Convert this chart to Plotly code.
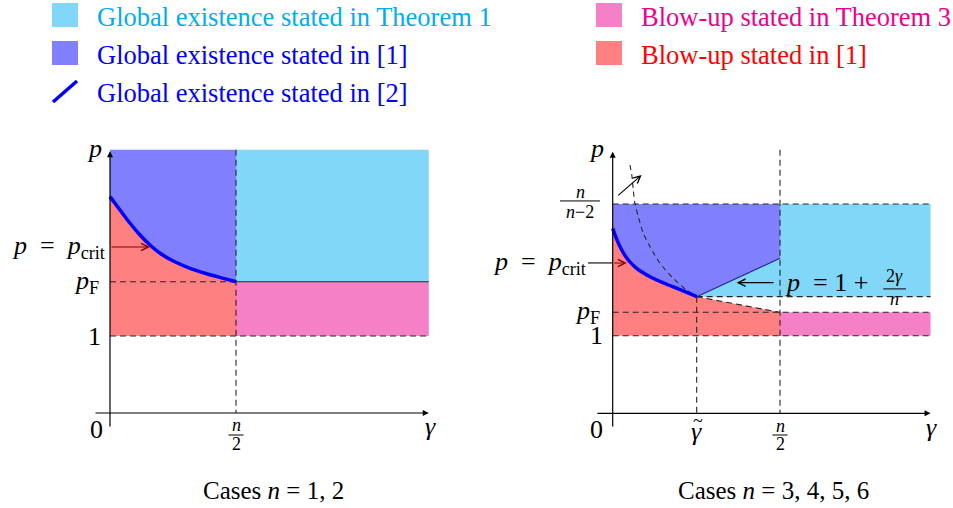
import plotly.graph_objects as go

W, H = 953, 508
OFF = 0   # body margin removed by the post script below

# ---------------- data (schematic units: gamma, p) ----------------
# Left panel : cases n = 1, 2
L_gamma_half = 1.0      # n/2
L_gamma_max = 2.53
L_p_top = 3.42
L_pF = 1.705
L_p1 = 1.0
L_crit_gamma = [0.0, 0.079, 0.159, 0.238, 0.317, 0.397, 0.502, 0.635, 0.767, 0.899, 1.0]
L_crit_p = [2.81, 2.636, 2.464, 2.312, 2.182, 2.074, 1.974, 1.879, 1.809, 1.749, 1.705]

# Right panel : cases n = 3, 4, 5, 6
R_gamma_half = 1.0      # n/2
R_gamma_tilde = 0.502
R_gamma_max = 1.90
R_p_top = 2.70          # n/(n-2)
R_line_low = 1.505      # 1 + 2*gamma_tilde/n
R_line_high = 2.0       # 1 + 2*(n/2)/n
R_pF = 1.303
R_p1 = 1.0
R_crit_gamma = [0.0, 0.024, 0.054, 0.093, 0.143, 0.223, 0.323, 0.422, 0.502]
R_crit_p = [2.387, 2.245, 2.107, 1.978, 1.871, 1.763, 1.665, 1.579, 1.505]
R_dash_gamma = [0.103, 0.114, 0.123, 0.133, 0.153, 0.183, 0.223, 0.283, 0.362, 0.442, 0.502]
R_dash_p = [3.204, 3.075, 2.881, 2.71, 2.537, 2.323, 2.15, 1.935, 1.742, 1.591, 1.505]

legend_left = ["Global existence stated in Theorem 1",
               "Global existence stated in [1]",
               "Global existence stated in [2]"]
legend_right = ["Blow-up stated in Theorem 3", "Blow-up stated in [1]"]
captions = ["Cases <i>n</i> = 1, 2", "Cases <i>n</i> = 3, 4, 5, 6"]

# ---------------- styles ----------------
C_CYAN, C_BLUE, C_RED, C_PINK = "#80D7F7", "#8080FF", "#FF8080", "#F680C6"
T_CYAN, T_BLUE, T_RED, T_PINK = "#00AEEF", "#0000FF", "#FF0000", "#EC008C"
DASH = dict(color="#262626", width=1.1, dash="6px,4px")
FONT = "Liberation Serif, Times New Roman, DejaVu Serif, serif"

fig = go.Figure()


def axes_cfg(px0, px1, py0, py1, ox, oy, sx, sy):
    xa = dict(domain=[(px0 - OFF) / W, (px1 - OFF) / W],
              range=[(px0 - ox) / sx, (px1 - ox) / sx], visible=False, fixedrange=True)
    ya = dict(domain=[1 - (py1 - OFF) / H, 1 - (py0 - OFF) / H],
              range=[(oy - py1) / sy, (oy - py0) / sy], visible=False, fixedrange=True)
    return xa, ya


xa1, ya1 = axes_cfg(8, 470, 135, 465, 110, 413, 126, 77)
xa2, ya2 = axes_cfg(480, 953, 135, 465, 612.7, 413.3, 167.3, 77.5)


def poly(xs, ys, color, ax):
    fig.add_trace(go.Scatter(x=xs, y=ys, fill="toself", fillcolor=color, mode="lines",
                             line=dict(width=0), hoverinfo="skip", showlegend=False,
                             xaxis=ax[0], yaxis=ax[1]))


def line(xs, ys, style, ax):
    fig.add_trace(go.Scatter(x=xs, y=ys, mode="lines", line=style, hoverinfo="skip",
                             showlegend=False, xaxis=ax[0], yaxis=ax[1]))


A1, A2 = ("x", "y"), ("x2", "y2")
CURVE = dict(color="#0000FF", width=3.5, shape="spline", smoothing=0.8)

# ---- left panel fills ----
poly([0, L_gamma_half] + L_crit_gamma[::-1], [L_p_top, L_p_top] + L_crit_p[::-1], C_BLUE, A1)
poly(L_crit_gamma + [L_gamma_half, 0], L_crit_p + [L_p1, L_p1], C_RED, A1)
poly([L_gamma_half, L_gamma_max, L_gamma_max, L_gamma_half],
     [L_pF, L_pF, L_p_top, L_p_top], C_CYAN, A1)
poly([L_gamma_half, L_gamma_max, L_gamma_max, L_gamma_half],
     [L_p1, L_p1, L_pF, L_pF], C_PINK, A1)
# left lines
line([0, L_gamma_half], [L_pF, L_pF], DASH, A1)
line([L_gamma_half, L_gamma_max], [L_pF, L_pF], dict(color="#262626", width=1.1), A1)
line([0, L_gamma_max], [L_p1, L_p1], DASH, A1)
line([L_gamma_half, L_gamma_half], [L_p_top, 0], DASH, A1)
line(L_crit_gamma, L_crit_p, CURVE, A1)

# ---- right panel fills ----
poly([0, R_gamma_half, R_gamma_half] + R_crit_gamma[::-1],
     [R_p_top, R_p_top, R_line_high] + R_crit_p[::-1], C_BLUE, A2)
poly([R_gamma_tilde, R_gamma_max, R_gamma_max, R_gamma_half, R_gamma_half],
     [R_line_low, R_line_low, R_p_top, R_p_top, R_line_high], C_CYAN, A2)
poly(R_crit_gamma + [R_gamma_half, R_gamma_half, 0], R_crit_p + [R_pF, R_p1, R_p1], C_RED, A2)
poly([R_gamma_half, R_gamma_max, R_gamma_max, R_gamma_half],
     [R_p1, R_p1, R_pF, R_pF], C_PINK, A2)
# right lines
line([0, R_gamma_max], [R_p_top, R_p_top], DASH, A2)
line([R_gamma_tilde, R_gamma_max], [R_line_low, R_line_low], DASH, A2)
line([0, R_gamma_max], [R_pF, R_pF], DASH, A2)
line([0, R_gamma_max], [R_p1, R_p1], DASH, A2)
line([R_gamma_half, R_gamma_half], [3.40, 0], DASH, A2)
line([R_gamma_tilde, R_gamma_tilde], [R_line_low, 0], DASH, A2)
line([R_gamma_tilde, R_gamma_half], [R_line_low, R_pF], DASH, A2)
line(R_dash_gamma, R_dash_p,
     dict(color="#262626", width=1.1, dash="5px,4px", shape="spline", smoothing=0.8), A2)
line([R_gamma_tilde, R_gamma_half], [R_line_low, R_line_high], dict(color="#20208F", width=1.1), A2)
line(R_crit_gamma, R_crit_p, CURVE, A2)
line([-0.148, 0], [1.94, 1.94], dict(color="black", width=1.1), A2)

ann = []
shapes = []


def arrow(x0, y0, x1, y1, xr, yr, head=2, color="black", width=1.2, size=1.0):
    ann.append(dict(x=x1, y=y1, ax=x0, ay=y0, xref=xr, yref=yr, axref=xr, ayref=yr,
                    showarrow=True, arrowhead=head, arrowsize=size, arrowwidth=width,
                    arrowcolor=color, text="", standoff=0, startstandoff=0))


def txt(x, y, s, xr, yr, size=26, color="black", xanchor="center", yanchor="middle"):
    ann.append(dict(x=x, y=y, xref=xr, yref=yr, text=s, showarrow=False,
                    font=dict(family=FONT, size=size, color=color),
                    xanchor=xanchor, yanchor=yanchor))


def bar(x0, x1, y, xr, yr):
    shapes.append(dict(type="line", x0=x0, x1=x1, y0=y, y1=y, xref=xr, yref=yr,
                       line=dict(color="black", width=1)))


# axes arrows
arrow(-0.127, 0, 2.53, 0, "x", "y")
arrow(0, -0.195, 0, 3.40, "x", "y")
arrow(-0.10, 0, 1.90, 0, "x2", "y2")
arrow(0, -0.19, 0, 3.375, "x2", "y2")
# pointer arrows
arrow(0, 2.156, 0.317, 2.156, "x", "y", head=5, color="#800000", width=1.1, size=1.3)
arrow(0, 1.94, 0.084, 1.94, "x2", "y2", head=5, color="#800000", width=1.1, size=1.3)
arrow(0.97, 1.686, 0.741, 1.686, "x2", "y2", head=5, color="black", width=1.1, size=1.3)
arrow(0.024, 2.795, 0.173, 3.075, "x2", "y2", head=5, color="black", width=1.1, size=1.3)

SP = "&nbsp;"
crit = "<i>p</i>" + SP + " = " + SP + "<i>p</i><sub>crit</sub>"

# left panel labels
txt(-0.12, 3.44, "<i>p</i>", "x", "y")
txt(-0.024, 2.156, crit, "x", "y", xanchor="right")
txt(-0.07, L_pF, "<i>p</i><sub>F</sub>", "x", "y", xanchor="right")
txt(-0.12, L_p1, "1", "x", "y")
txt(-0.11, -0.22, "0", "x", "y")
txt(L_gamma_half, -0.16, "<i>n</i>", "x", "y", size=18)
bar(0.94, 1.06, -0.286, "x", "y")
txt(L_gamma_half, -0.40, "2", "x", "y", size=18)
txt(2.54, -0.18, "<i>γ</i>", "x", "y")

# right panel labels
txt(-0.094, 3.42, "<i>p</i>", "x2", "y2")
txt(-0.195, 2.86, "<i>n</i>", "x2", "y2", size=18)
bar(-0.315, -0.076, 2.74, "x2", "y2")
txt(-0.195, 2.60, "<i>n</i>−2", "x2", "y2", size=18)
txt(-0.148, 1.94, crit, "x2", "y2", xanchor="right")
txt(-0.064, R_pF, "<i>p</i><sub>F</sub>", "x2", "y2", xanchor="right")
txt(-0.094, R_p1, "1", "x2", "y2")
txt(-0.094, -0.215, "0", "x2", "y2")
txt(R_gamma_tilde, -0.23, "<i>γ</i>", "x2", "y2")
txt(R_gamma_tilde + 0.01, -0.10, "~", "x2", "y2", size=18)
txt(R_gamma_half, -0.16, "<i>n</i>", "x2", "y2", size=18)
bar(0.955, 1.045, -0.28, "x2", "y2")
txt(R_gamma_half, -0.40, "2", "x2", "y2", size=18)
txt(1.908, -0.177, "<i>γ</i>", "x2", "y2")
txt(1.018, 1.686, "<i>p</i>" + SP + " = 1 +", "x2", "y2", xanchor="left")
txt(1.685, 1.77, "2<i>γ</i>", "x2", "y2", size=18)
bar(1.617, 1.753, 1.605, "x2", "y2")
txt(1.685, 1.475, "<i>n</i>", "x2", "y2", size=18)


# paper-space helpers (reference pixel -> paper fraction)
def px(x):
    return (x - OFF) / W


def py(y):
    return 1 - (y - OFF) / H


# captions
txt(px(273), py(490), captions[0], "paper", "paper", size=25)
txt(px(773), py(490), captions[1], "paper", "paper", size=25)

# legend
for (y0, y1), col in zip([(3, 27), (41, 65)], [C_CYAN, C_BLUE]):
    shapes.append(dict(type="rect", xref="paper", yref="paper", x0=px(52), x1=px(78),
                       y0=py(y1), y1=py(y0), fillcolor=col, line=dict(width=0)))
shapes.append(dict(type="line", xref="paper", yref="paper", x0=px(53), y0=py(102),
                   x1=px(77), y1=py(81), line=dict(color="#0000FF", width=3.5)))
for (y0, y1), col in zip([(3, 27), (41, 65)], [C_PINK, C_RED]):
    shapes.append(dict(type="rect", xref="paper", yref="paper", x0=px(596), x1=px(622),
                       y0=py(y1), y1=py(y0), fillcolor=col, line=dict(width=0)))

for s, yc, col in zip(legend_left, [17, 55, 93], [T_CYAN, T_BLUE, T_BLUE]):
    txt(px(95), py(yc), s, "paper", "paper", size=26.5, color=col, xanchor="left")
for s, yc, col in zip(legend_right, [17, 55], [T_PINK, T_RED]):
    txt(px(639), py(yc), s, "paper", "paper", size=26.5, color=col, xanchor="left")

fig.update_layout(
    width=W, height=H, margin=dict(l=0, r=0, t=0, b=0),
    paper_bgcolor="white", plot_bgcolor="rgba(0,0,0,0)",
    xaxis=xa1, yaxis=ya1, xaxis2=xa2, yaxis2=ya2,
    annotations=ann, shapes=shapes, showlegend=False,
    font=dict(family=FONT),
)

fig.write_html("out.html", config={"displayModeBar": False, "staticPlot": True},
               post_script="document.body.style.margin='0px';document.body.style.overflow='hidden';")
